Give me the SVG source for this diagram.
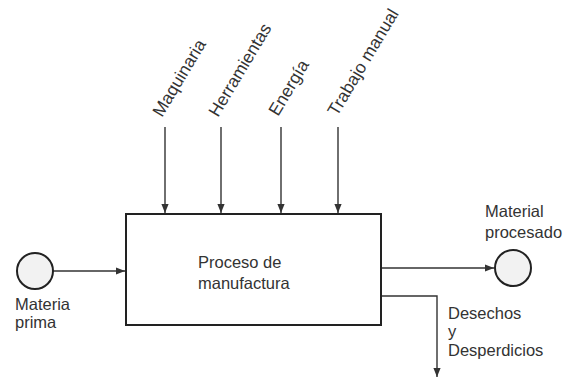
<svg xmlns="http://www.w3.org/2000/svg" width="564" height="381" viewBox="0 0 564 381">
<defs>
<style>
.t{font-family:"Liberation Sans",Arial,sans-serif;font-size:16.5px;fill:#333}
.r{font-size:17.5px}
.ln{stroke:#333;stroke-width:1.4;fill:none}
.bx{stroke:#222;stroke-width:2;fill:#fff}
.c{stroke:#222;stroke-width:2;fill:#f2f2f2}
</style>
<marker id="ah" viewBox="0 0 10 10" refX="10" refY="5" markerWidth="9" markerHeight="9" markerUnits="userSpaceOnUse" orient="auto">
<path d="M0,1 L10,5 L0,9 Z" fill="#333"/>
</marker>
</defs>
<rect width="564" height="381" fill="#fff"/>
<g id="connectors">
<line class="ln" x1="165" y1="127" x2="165" y2="213" marker-end="url(#ah)"/>
<line class="ln" x1="221" y1="127" x2="221" y2="213" marker-end="url(#ah)"/>
<line class="ln" x1="281" y1="127" x2="281" y2="213" marker-end="url(#ah)"/>
<line class="ln" x1="338" y1="127" x2="338" y2="213" marker-end="url(#ah)"/>
<line class="ln" x1="53" y1="271" x2="125" y2="271" marker-end="url(#ah)"/>
<line class="ln" x1="382" y1="268" x2="494" y2="268" marker-end="url(#ah)"/>
<polyline class="ln" points="382,296 437,296 437,377" marker-end="url(#ah)"/>
</g>
<g id="label-maquinaria"><text class="t r" transform="translate(162,118) rotate(-59)">Maquinaria</text></g>
<g id="label-herramientas"><text class="t r" transform="translate(218,118) rotate(-59)">Herramientas</text></g>
<g id="label-energia"><text class="t r" transform="translate(278,117) rotate(-59)">Energía</text></g>
<g id="label-trabajo"><text class="t r" transform="translate(337,117) rotate(-59)">Trabajo manual</text></g>
<g id="proceso">
<rect class="bx" x="126" y="214" width="255" height="111"/>
<text class="t" x="198" y="268">Proceso de</text>
<text class="t" x="198" y="289">manufactura</text>
</g>
<g id="materia-prima">
<circle class="c" cx="35" cy="271" r="18"/>
<text class="t" x="15" y="310">Materia</text>
<text class="t" x="15" y="328">prima</text>
</g>
<g id="material-procesado">
<circle class="c" cx="513" cy="268" r="18"/>
<text class="t" x="485" y="217">Material</text>
<text class="t" x="485" y="238">procesado</text>
</g>
<g id="desechos">
<text class="t" x="448" y="319">Desechos</text>
<text class="t" x="448" y="337">y</text>
<text class="t" x="448" y="356">Desperdicios</text>
</g>
</svg>
